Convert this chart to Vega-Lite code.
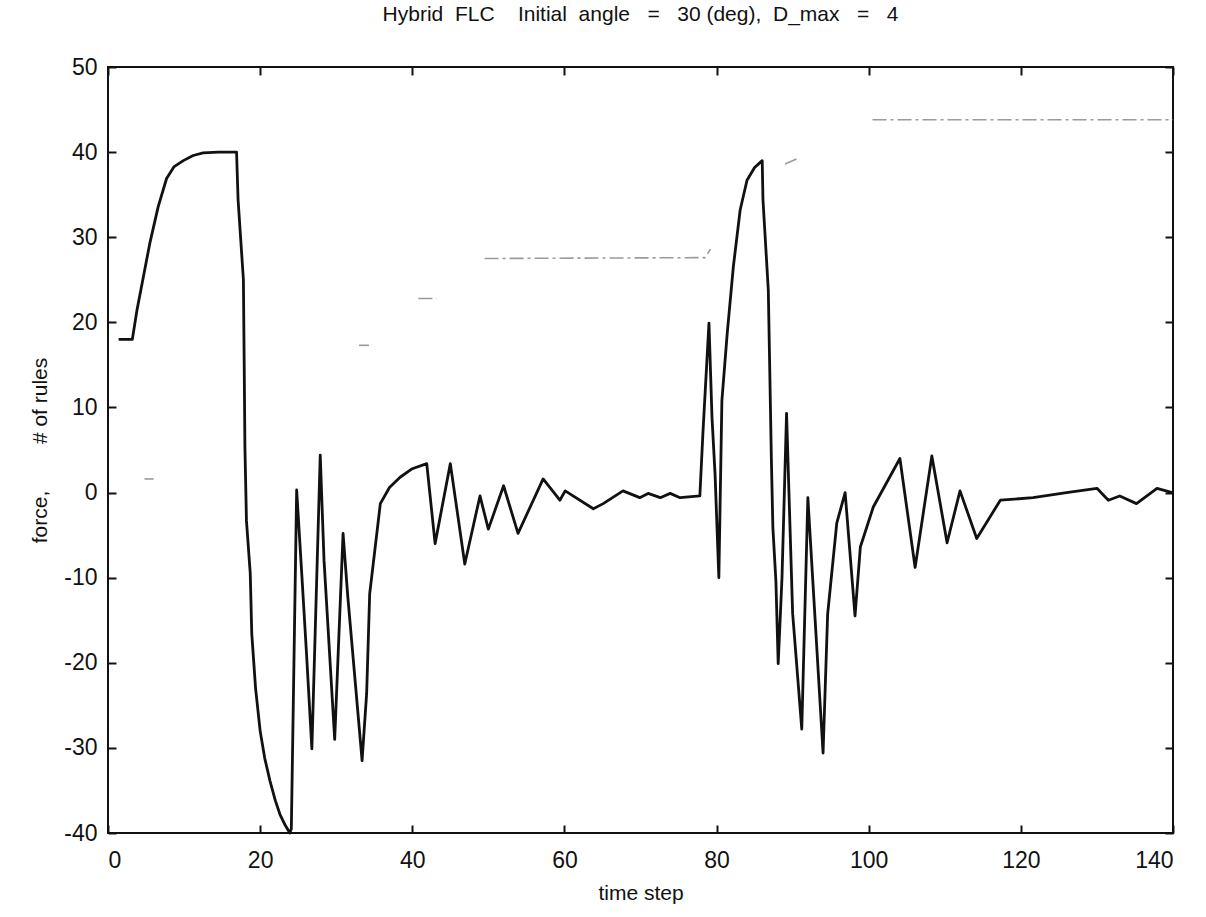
{
  "$schema": "https://vega.github.io/schema/vega-lite/v6.json",
  "autosize": "none",
  "width": 1065,
  "height": 766,
  "padding": {"left": 108, "top": 67, "right": 33, "bottom": 84},
  "background": "white",
  "config": {
    "font": "Liberation Sans",
    "view": {"stroke": "#111", "strokeWidth": 2},
    "axis": {"grid": false, "domain": false, "tickColor": "#111", "tickWidth": 2, "tickSize": -8, "labelFont": "Liberation Sans", "labelFontSize": 23, "labelColor": "#111", "titleFont": "Liberation Sans", "titleFontSize": 21, "titleFontWeight": "normal", "titleColor": "#111", "labelExpr": "replace(datum.label, '\u2212', '-')"}
  },
  "title": {"text": "Hybrid\u00a0\u00a0FLC\u00a0\u00a0\u00a0\u00a0Initial\u00a0\u00a0angle\u00a0\u00a0\u00a0=\u00a0\u00a0\u00a030 (deg),\u00a0\u00a0D_max\u00a0\u00a0\u00a0=\u00a0\u00a0\u00a04", "fontSize": 21, "fontWeight": "normal", "font": "Liberation Sans", "color": "#111", "offset": 31},
  "datasets": {
    "force": [
      {"t": 1.4, "v": 18.0}, {"t": 3.2, "v": 18.0}, {"t": 3.8, "v": 21.4}, {"t": 5.5, "v": 29.3}, {"t": 6.6, "v": 33.6}, {"t": 7.7, "v": 36.9}, {"t": 8.7, "v": 38.3}, {"t": 9.9, "v": 39.0}, {"t": 11.2, "v": 39.6}, {"t": 12.5, "v": 39.9}, {"t": 14.5, "v": 40.0}, {"t": 16.9, "v": 40.0}, {"t": 17.1, "v": 34.4}, {"t": 17.8, "v": 25.0}, {"t": 17.9, "v": 15.5}, {"t": 18.0, "v": 5.3}, {"t": 18.2, "v": -3.3}, {"t": 18.7, "v": -9.5}, {"t": 18.9, "v": -16.6}, {"t": 19.4, "v": -23.0}, {"t": 20.0, "v": -28.0}, {"t": 20.6, "v": -31.2}, {"t": 21.3, "v": -33.9}, {"t": 22.0, "v": -36.2}, {"t": 22.6, "v": -37.8}, {"t": 23.3, "v": -39.1}, {"t": 23.9, "v": -40.0}, {"t": 24.1, "v": -39.5}, {"t": 24.8, "v": 0.3}, {"t": 25.5, "v": -10.0}, {"t": 26.1, "v": -19.0}, {"t": 26.8, "v": -30.1}, {"t": 27.9, "v": 4.4}, {"t": 28.4, "v": -8.0}, {"t": 29.8, "v": -29.0}, {"t": 30.9, "v": -4.8}, {"t": 31.5, "v": -12.0}, {"t": 33.4, "v": -31.5}, {"t": 34.0, "v": -23.6}, {"t": 34.4, "v": -11.9}, {"t": 35.8, "v": -1.3}, {"t": 37.0, "v": 0.6}, {"t": 38.4, "v": 1.8}, {"t": 40.0, "v": 2.8}, {"t": 41.9, "v": 3.4}, {"t": 43.0, "v": -6.0}, {"t": 45.0, "v": 3.4}, {"t": 46.9, "v": -8.4}, {"t": 48.9, "v": -0.4}, {"t": 50.0, "v": -4.3}, {"t": 52.0, "v": 0.8}, {"t": 53.9, "v": -4.8}, {"t": 57.2, "v": 1.6}, {"t": 59.4, "v": -0.9}, {"t": 60.1, "v": 0.2}, {"t": 63.8, "v": -1.9}, {"t": 65.1, "v": -1.3}, {"t": 67.7, "v": 0.2}, {"t": 69.9, "v": -0.6}, {"t": 71.0, "v": -0.1}, {"t": 72.6, "v": -0.6}, {"t": 73.9, "v": -0.1}, {"t": 75.2, "v": -0.6}, {"t": 77.8, "v": -0.4}, {"t": 78.2, "v": 6.9}, {"t": 79.0, "v": 19.9}, {"t": 79.4, "v": 8.8}, {"t": 79.8, "v": 2.2}, {"t": 80.3, "v": -10.0}, {"t": 80.7, "v": 10.8}, {"t": 81.4, "v": 18.7}, {"t": 82.2, "v": 26.5}, {"t": 83.1, "v": 33.2}, {"t": 84.0, "v": 36.7}, {"t": 85.0, "v": 38.2}, {"t": 86.0, "v": 39.0}, {"t": 86.1, "v": 34.4}, {"t": 86.8, "v": 23.8}, {"t": 87.0, "v": 14.0}, {"t": 87.2, "v": 4.1}, {"t": 87.4, "v": -4.1}, {"t": 87.8, "v": -10.4}, {"t": 88.1, "v": -20.1}, {"t": 88.6, "v": -10.0}, {"t": 89.2, "v": 9.3}, {"t": 89.6, "v": -2.5}, {"t": 90.0, "v": -14.2}, {"t": 91.2, "v": -27.8}, {"t": 92.0, "v": -0.6}, {"t": 94.0, "v": -30.6}, {"t": 94.6, "v": -14.3}, {"t": 95.8, "v": -3.6}, {"t": 96.9, "v": 0.0}, {"t": 98.2, "v": -14.5}, {"t": 98.9, "v": -6.4}, {"t": 100.6, "v": -1.7}, {"t": 104.1, "v": 4.0}, {"t": 106.1, "v": -8.8}, {"t": 108.3, "v": 4.3}, {"t": 110.3, "v": -5.9}, {"t": 112.0, "v": 0.2}, {"t": 114.2, "v": -5.4}, {"t": 117.3, "v": -0.9}, {"t": 121.6, "v": -0.6}, {"t": 126.0, "v": 0.0}, {"t": 130.0, "v": 0.5}, {"t": 131.5, "v": -0.9}, {"t": 133.0, "v": -0.4}, {"t": 135.2, "v": -1.3}, {"t": 137.9, "v": 0.5}, {"t": 139.9, "v": 0.0}
    ],
    "rules": [
      {"seg": "a", "t": 4.8, "v": 1.6}, {"seg": "a", "t": 6.0, "v": 1.6},
      {"seg": "b", "t": 33.0, "v": 17.3}, {"seg": "b", "t": 34.3, "v": 17.3},
      {"seg": "c", "t": 40.8, "v": 22.8}, {"seg": "c", "t": 43.2, "v": 22.8},
      {"seg": "d", "t": 49.5, "v": 27.5}, {"seg": "d", "t": 78.5, "v": 27.6}, {"seg": "d", "t": 79.2, "v": 28.6},
      {"seg": "e", "t": 89.0, "v": 38.6}, {"seg": "e", "t": 90.5, "v": 39.2},
      {"seg": "f", "t": 100.5, "v": 43.8}, {"seg": "f", "t": 140.0, "v": 43.8}
    ]
  },
  "layer": [
    {
      "data": {"name": "rules"},
      "mark": {"type": "line", "color": "#9a9a9a", "strokeWidth": 1.6, "strokeDash": [14, 4, 3, 4], "clip": true},
      "encoding": {
        "x": {"field": "t", "type": "quantitative", "scale": {"domain": [0, 140], "nice": false}, "axis": {"values": [0, 20, 40, 60, 80, 100, 120, 140], "title": "time step", "labelPadding": 24, "titlePadding": 10, "orient": "bottom"}},
        "y": {"field": "v", "type": "quantitative", "scale": {"domain": [-40, 50], "nice": false, "zero": false}, "axis": {"values": [-40, -30, -20, -10, 0, 10, 20, 30, 40, 50], "title": "force,\u00a0\u00a0\u00a0\u00a0\u00a0\u00a0\u00a0\u00a0# of rules", "labelPadding": 19, "titlePadding": 13, "orient": "left"}},
        "detail": {"field": "seg"}
      }
    },
    {
      "data": {"name": "force"},
      "mark": {"type": "line", "color": "#111111", "strokeWidth": 2.8, "strokeJoin": "round"},
      "encoding": {
        "x": {"field": "t", "type": "quantitative", "scale": {"domain": [0, 140], "nice": false}, "axis": {"values": [0, 20, 40, 60, 80, 100, 120, 140], "labels": false, "title": null, "orient": "top"}},
        "y": {"field": "v", "type": "quantitative", "scale": {"domain": [-40, 50], "nice": false, "zero": false}, "axis": {"values": [-40, -30, -20, -10, 0, 10, 20, 30, 40, 50], "labels": false, "title": null, "orient": "right"}}
      }
    }
  ],
  "resolve": {"axis": {"x": "independent", "y": "independent"}}
}
